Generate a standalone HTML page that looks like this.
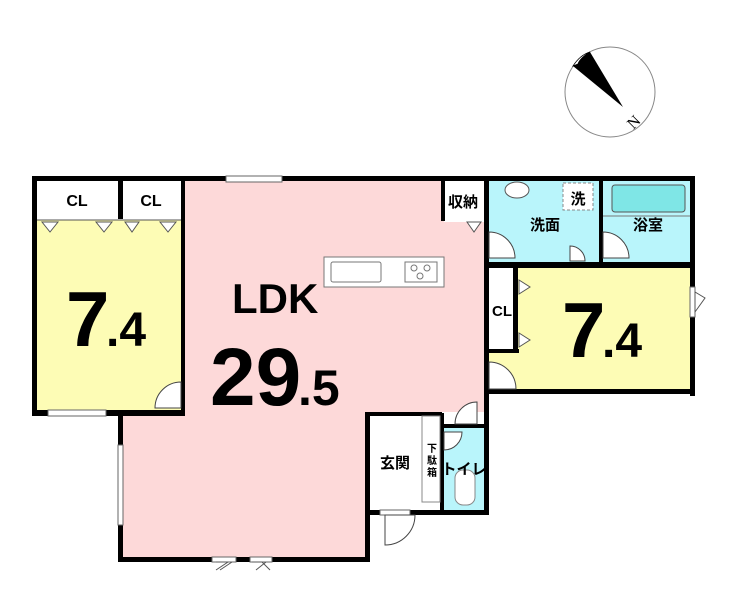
<!DOCTYPE html><html><head><style>body{margin:0;background:#fff}svg{display:block}text{font-family:"Liberation Sans","Noto Sans CJK JP",sans-serif;font-weight:bold}</style></head><body>
<svg width="740" height="607" viewBox="0 0 740 607" xmlns="http://www.w3.org/2000/svg">
<circle cx="610" cy="92" r="45" fill="#fff" stroke="#888" stroke-width="1"/>
<path d="M573,66 Q580,55 590,52 L623,107 Z" fill="#000"/>
<path d="M573,66 Q580,55 590,52 Q580,58 578,64 Z" fill="#fff" stroke="#000" stroke-width="0.8"/>
<text x="626" y="128" font-size="16" transform="rotate(-45 632 120)" style="font-family:'Liberation Serif',serif;font-weight:normal">N</text>
<rect x="32" y="176" width="663" height="6" fill="#000"/>
<polygon points="181,181 485,181 485,412 370,412 370,560 123,560 123,410 181,410" fill="#fdd9d9"/>
<rect x="37" y="220" width="144" height="190" fill="#fdfcb5"/>
<rect x="37" y="181" width="144" height="39" fill="#fff"/>
<rect x="489" y="181" width="201" height="81" fill="#b9f5fb"/>
<rect x="517" y="268" width="173" height="123" fill="#fdfcb5"/>
<rect x="489" y="352" width="28" height="39" fill="#fdfcb5"/>
<rect x="489" y="268" width="28" height="84" fill="#fff"/>
<rect x="370" y="415" width="72" height="96" fill="#fff"/>
<rect x="444" y="428" width="41" height="83" fill="#b9f5fb"/>
<rect x="444" y="181" width="41" height="41" fill="#fff"/>
<g fill="#000">
<rect x="32" y="176" width="5" height="240"/>
<rect x="32" y="410" width="153" height="6"/>
<rect x="181" y="181" width="4" height="235"/>
<rect x="118" y="181" width="5" height="38"/>
<rect x="118" y="410" width="5" height="152"/>
<rect x="118" y="557" width="252" height="5"/>
<rect x="365" y="412" width="5" height="150"/>
<rect x="365" y="412" width="77" height="4"/>
<rect x="365" y="510" width="124" height="5"/>
<rect x="484" y="181" width="5" height="334"/>
<rect x="441" y="181" width="4" height="40"/>
<rect x="440" y="413" width="4" height="100"/>
<rect x="440" y="424" width="46" height="4"/>
<rect x="690" y="176" width="5" height="220"/>
<rect x="489" y="262" width="206" height="6"/>
<rect x="599" y="181" width="4" height="84"/>
<rect x="489" y="389" width="206" height="5"/>
<rect x="489" y="349" width="30" height="4"/>
<rect x="513" y="265" width="5" height="88"/>
</g>
<rect x="226" y="176" width="56" height="6" fill="#fff" stroke="#666" stroke-width="1"/>
<rect x="48" y="410" width="58" height="6" fill="#fff" stroke="#666" stroke-width="1"/>
<rect x="118" y="445" width="5" height="80" fill="#fff" stroke="#666" stroke-width="1"/>
<rect x="212" y="557" width="24" height="5" fill="#fff" stroke="#666"/><rect x="250" y="557" width="22" height="5" fill="#fff" stroke="#666"/>
<rect x="690" y="287" width="5" height="30" fill="#fff" stroke="#666"/>
<rect x="380" y="510" width="30" height="5" fill="#fff" stroke="#666"/>
<g fill="#fff" stroke="#555" stroke-width="1">
<line x1="37" y1="220" x2="181" y2="220"/>
<path d="M42,222 L58,222 L50,232 Z"/><path d="M96,222 L112,222 L104,232 Z"/><path d="M125,222 L139,222 L132,232 Z"/><path d="M160,222 L176,222 L168,232 Z"/>
<path d="M467,222 L481,222 L474,232 Z"/>
<path d="M519,280 L519,294 L530,287 Z"/><path d="M519,333 L519,347 L530,340 Z"/>
<path d="M695,292 L695,312 L705,298 Z"/>
<path d="M216,562 L228,562 L216,570 M232,562 L220,570" fill="none"/><path d="M252,562 L262,562 L270,570 M266,562 L256,570" fill="none"/>
</g>
<g fill="#fff" stroke="#444" stroke-width="1">
<path d="M181,382 A26,26 0 0 0 155,408 L181,408 Z"/>
<path d="M489,232 A26,26 0 0 1 515,258 L489,258 Z"/>
<path d="M603,232 A26,26 0 0 1 629,258 L603,258 Z"/>
<path d="M570,246 A15,15 0 0 1 585,261 L570,261 Z"/>
<path d="M489,362 A27,27 0 0 1 516,389 L489,389 Z"/>
<path d="M477,402 A22,22 0 0 0 455,424 L477,424 Z"/>
<path d="M444,432 L462,432 A18,18 0 0 1 444,450 Z"/>
<path d="M385,545 A30,30 0 0 0 415,515 L385,515 Z"/>
</g>
<ellipse cx="517" cy="190" rx="12" ry="8" fill="#fff" stroke="#555"/>
<rect x="563" y="183" width="30" height="27" fill="#fff" stroke="#888" stroke-dasharray="3,2"/>
<rect x="612" y="185" width="73" height="27" rx="3" fill="#7fe6e6" stroke="#555"/>
<line x1="603" y1="216" x2="690" y2="216" stroke="#777"/>
<rect x="324" y="257" width="120" height="30" fill="#fff" stroke="#777"/>
<rect x="331" y="262" width="50" height="20" rx="2" fill="#fff" stroke="#777"/>
<rect x="405" y="262" width="32" height="20" fill="#fff" stroke="#777"/>
<circle cx="414" cy="268" r="3" fill="none" stroke="#777"/><circle cx="427" cy="268" r="3" fill="none" stroke="#777"/><circle cx="420" cy="276" r="3" fill="none" stroke="#777"/>
<rect x="422" y="416" width="18" height="86" fill="#fff" stroke="#888"/>
<rect x="455" y="470" width="20" height="35" rx="8" fill="#fff" stroke="#888"/>
<text x="77" y="206" font-size="16" text-anchor="middle">CL</text>
<text x="151" y="206" font-size="16" text-anchor="middle">CL</text>
<text x="463" y="207" font-size="15" text-anchor="middle">収納</text>
<text x="545" y="230" font-size="15" text-anchor="middle">洗面</text>
<text x="578" y="204" font-size="15" text-anchor="middle">洗</text>
<text x="648" y="230" font-size="15" text-anchor="middle">浴室</text>
<text x="502" y="316" font-size="15" text-anchor="middle">CL</text>
<text x="395" y="468" font-size="15" text-anchor="middle">玄関</text>
<text x="432" y="452" font-size="10" text-anchor="middle">下</text><text x="432" y="464" font-size="10" text-anchor="middle">駄</text><text x="432" y="476" font-size="10" text-anchor="middle">箱</text>
<text x="464" y="474" font-size="15" text-anchor="middle">トイレ</text>
<text x="66" y="346" font-size="78">7</text><text x="106" y="346" font-size="48">.4</text>
<text x="562" y="357" font-size="78">7</text><text x="602" y="357" font-size="48">.4</text>
<text x="232" y="313" font-size="42">LDK</text>
<text x="210" y="405" font-size="82">29</text><text x="298" y="405" font-size="50">.5</text>
</svg></body></html>
